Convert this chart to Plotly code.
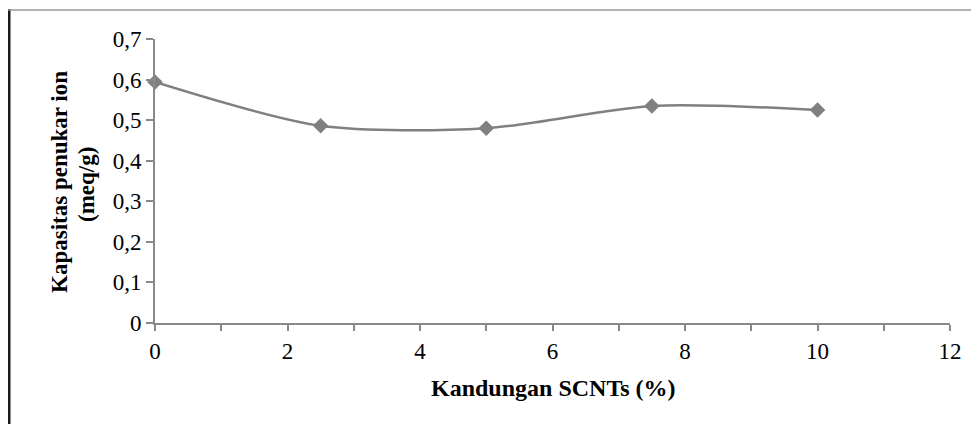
import plotly.graph_objects as go

x_vals = [0, 2.5, 5, 7.5, 10]
y_vals = [0.594, 0.486, 0.480, 0.535, 0.525]
x_ticks = [0, 2, 4, 6, 8, 10, 12]
y_ticks = [0, 0.1, 0.2, 0.3, 0.4, 0.5, 0.6, 0.7]
y_tick_text = ["0", "0,1", "0,2", "0,3", "0,4", "0,5", "0,6", "0,7"]
x_title = "<b>Kandungan SCNTs (%)</b>"
y_title_1 = "<b>Kapasitas penukar ion</b>"
y_title_2 = "<b>(meq/g)</b>"

# page body has an 8px margin, so the figure is offset by (8, 8)
OFF = 8
W, H = 979 - OFF, 424 - OFF
L, R, T, B = 155 - OFF, 979 - 950, 39 - OFF, 424 - 323
pw, ph = W - L - R, H - T - B

def px(xp):
    return (xp - OFF - L) / pw

def py(yp):
    return (H - B - (yp - OFF)) / ph

gray = "#808080"
axis_gray = "#898989"
font_family = "Liberation Serif, Times New Roman, serif"

fig = go.Figure()
fig.add_trace(go.Scatter(
    x=x_vals, y=y_vals, mode="lines+markers",
    line=dict(color=gray, width=2.5, shape="spline", smoothing=0.8),
    marker=dict(symbol="diamond", size=12, color=gray),
    showlegend=False, cliponaxis=False,
))

fig.update_layout(
    width=W, height=H,
    margin=dict(l=L, r=R, t=T, b=B),
    paper_bgcolor="white", plot_bgcolor="white",
    font=dict(family=font_family, size=23, color="#000000"),
    xaxis=dict(
        range=[0, 12], tickvals=x_ticks, ticktext=[str(v) for v in x_ticks],
        showgrid=False, zeroline=False, showline=True, linecolor=axis_gray, linewidth=2,
        ticks="outside", ticklen=6, tickcolor=axis_gray, tickwidth=2,
        minor=dict(dtick=1, ticks="outside", ticklen=6, tickcolor=axis_gray, tickwidth=2, showgrid=False),
        tickfont=dict(size=23), fixedrange=True,
    ),
    yaxis=dict(
        range=[0, 0.7], tickvals=y_ticks, ticktext=y_tick_text,
        showgrid=False, zeroline=False, showline=True, linecolor=axis_gray, linewidth=2,
        ticks="outside", ticklen=7, tickcolor=axis_gray, tickwidth=2,
        tickfont=dict(size=23), fixedrange=True,
    ),
    annotations=[
        dict(text=x_title, xref="paper", yref="paper", x=px(553), y=py(388),
             showarrow=False, font=dict(size=24), xanchor="center", yanchor="middle"),
        dict(text=y_title_1, xref="paper", yref="paper", x=px(59), y=py(182),
             showarrow=False, font=dict(size=23), textangle=-90, xanchor="center", yanchor="middle"),
        dict(text=y_title_2, xref="paper", yref="paper", x=px(86), y=py(185),
             showarrow=False, font=dict(size=23), textangle=-90, xanchor="center", yanchor="middle"),
    ],
    shapes=[
        dict(type="line", xref="paper", yref="paper", x0=px(9), x1=px(9), y0=py(9), y1=py(440),
             line=dict(color="#1a1a1a", width=3)),
        dict(type="line", xref="paper", yref="paper", x0=px(8), x1=px(990), y0=py(10), y1=py(10),
             line=dict(color="#999999", width=1.5)),
    ],
)

fig.write_html("out.html")
